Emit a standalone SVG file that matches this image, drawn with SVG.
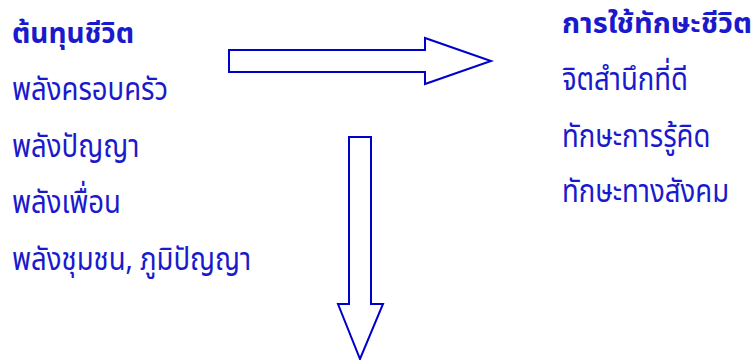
<svg xmlns="http://www.w3.org/2000/svg" width="756" height="360" viewBox="0 0 756 360">
<style>
text{font-family:"Noto Sans Thai","Noto Sans","DejaVu Sans",sans-serif;fill:#1a1acc;font-size:27.5px}
.t{font-weight:bold;font-size:28px}
.a{fill:#fff;stroke:#0000cc;stroke-width:2}
</style>
<rect width="756" height="360" fill="#fff"/>
<g id="left">
<text class="t" x="12" y="43">ต้นทุนชีวิต</text>
<text transform="translate(12,100) scale(1,1.16)">พลังครอบครัว</text>
<text transform="translate(12,157) scale(1,1.16)">พลังปัญญา</text>
<text transform="translate(12,213) scale(1,1.16)">พลังเพื่อน</text>
<text transform="translate(12,270) scale(1,1.16)">พลังชุมชน, ภูมิปัญญา</text>
</g>
<g id="right">
<text class="t" x="562" y="33" style="font-size:29px">การใช้ทักษะชีวิต</text>
<text transform="translate(562,90) scale(1,1.16)">จิตสำนึกที่ดี</text>
<text transform="translate(562,147) scale(1,1.16)">ทักษะการรู้คิด</text>
<text transform="translate(562,202) scale(1,1.16)">ทักษะทางสังคม</text>
</g>
<g id="connectors">
<path class="a" d="M229,50 H425 V38 L491,61 L425,84 V72 H229 Z"/>
<path class="a" d="M349,137 H371 V304 H383 L360,359 L338,304 H349 Z"/>
</g>
</svg>
